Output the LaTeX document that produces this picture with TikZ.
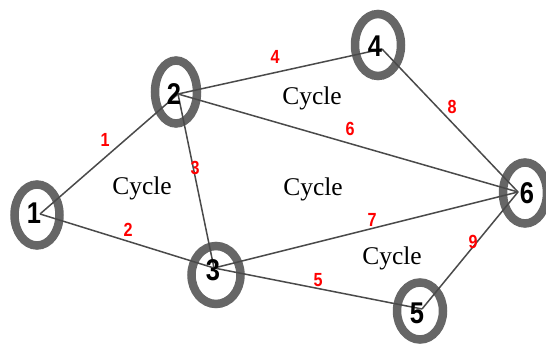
\documentclass[tikz,border=0pt]{standalone}
\usepackage{fontspec}
\setmainfont{Liberation Serif}
\newfontfamily\arialf{Liberation Sans}
\begin{document}
\begin{tikzpicture}[x=1pt,y=-1pt,
  vlabel/.style={font=\arialf\bfseries\fontsize{30}{30}\selectfont,inner sep=0pt,xscale=0.85},
  elabel/.style={font=\arialf\bfseries\fontsize{19}{19}\selectfont,text=red,inner sep=0pt,xscale=0.85},
  cyc/.style={font=\fontsize{25.5}{25.5}\selectfont,inner sep=0pt},
  edge/.style={draw=edgegray,line width=1.5pt}]
\definecolor{ringgray}{HTML}{666666}
\definecolor{edgegray}{HTML}{4A4A4A}
\useasboundingbox (0,0) rectangle (546,344);
% rings
\draw[ringgray,line width=8.5pt] (37,215) ellipse (22.5 and 30.5);
\draw[ringgray,line width=8.5pt] (176,92) ellipse (21 and 31.5);
\draw[ringgray,line width=8.5pt] (378,45) ellipse (23 and 31);
\draw[ringgray,line width=8.5pt] (525,193) ellipse (22 and 30.5);
\draw[ringgray,line width=8.5pt] (216,275) ellipse (24.5 and 29);
\draw[ringgray,line width=8.5pt] (420,311) ellipse (23 and 28.5);
% centres
\coordinate (n1) at (40,214);
\coordinate (n2) at (178,94);
\coordinate (n3) at (214,268);
\coordinate (n4) at (382,49);
\coordinate (n5) at (422,309);
\coordinate (n6) at (518,192);
% edges
\draw[edge] (n1) -- (n2);
\draw[edge] (n1) -- (n3);
\draw[edge] (n2) -- (n3);
\draw[edge] (n2) -- (n4);
\draw[edge] (n2) -- (n6);
\draw[edge] (n4) -- (n6);
\draw[edge] (n3) -- (n6);
\draw[edge] (n3) -- (n5);
\draw[edge] (n5) -- (n6);
% vertex labels
\node[vlabel] (v1) at (34,213) {1};
\node[vlabel] (v2) at (174,94) {2};
\node[vlabel] (v3) at (213,270) {3};
\node[vlabel] (v4) at (375,46) {4};
\node[vlabel] (v5) at (417,313) {5};
\node[vlabel] (v6) at (527,193) {6};
% edge labels
\node[elabel] (e1) at (105,140) {1};
\node[elabel] (e2) at (128,230) {2};
\node[elabel] (e3) at (195,168) {3};
\node[elabel] (e4) at (275,57) {4};
\node[elabel] (e5) at (318,280) {5};
\node[elabel] (e6) at (350,129) {6};
\node[elabel] (e7) at (372,220) {7};
\node[elabel] (e8) at (452,107) {8};
\node[elabel] (e9) at (473,242) {9};
% cycle labels
\node[cyc] (c1) at (142,188) {Cycle};
\node[cyc] (c2) at (312,98) {Cycle};
\node[cyc] (c3) at (313,189) {Cycle};
\node[cyc] (c4) at (392,258) {Cycle};
\end{tikzpicture}
\end{document}
